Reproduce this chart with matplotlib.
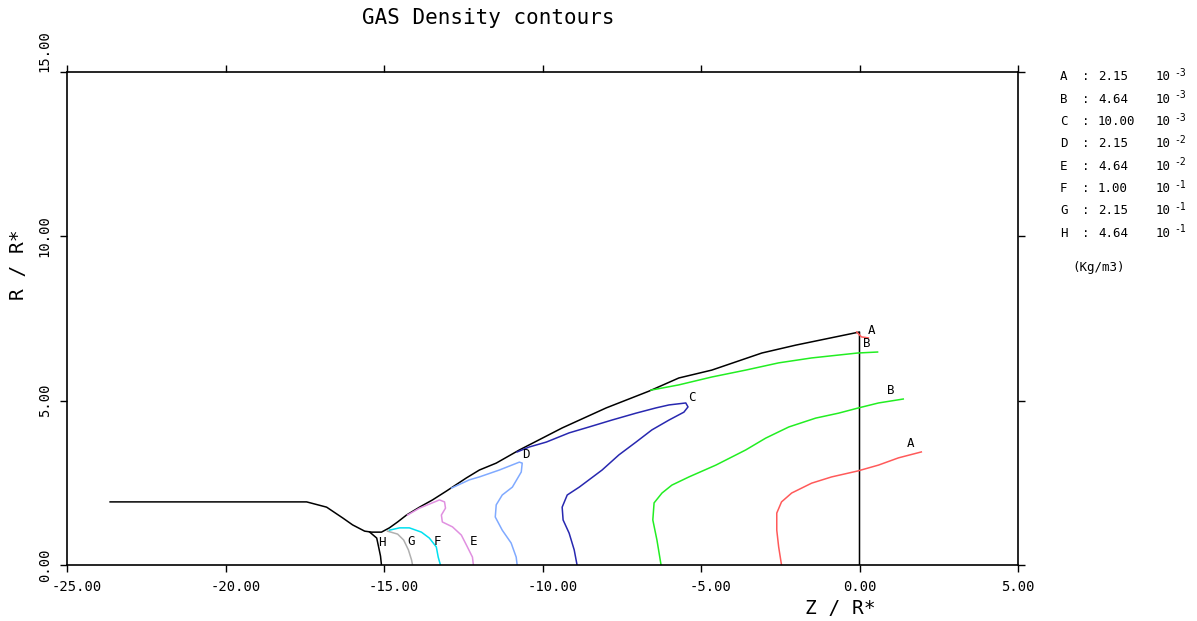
import numpy as np
import matplotlib
matplotlib.use('Agg')
import matplotlib.pyplot as plt
import matplotlib.transforms as mtransforms
from matplotlib.ticker import FormatStrFormatter

# outer boundary (shock + body) and axis line at Z = 0
bound_z = [-23.64, -17.44, -16.81, -16.30, -15.99, -15.61, -15.39, -15.08, -14.83, -14.57,
           -14.29, -13.88, -13.47, -13.03, -12.40, -11.99, -11.46, -10.73, -9.38, -7.99,
           -6.64, -5.70, -4.66, -3.08, -2.01, 0.0, 0.0]
bound_r = [1.92, 1.92, 1.76, 1.43, 1.22, 1.03, 1.00, 1.00, 1.13, 1.31,
           1.52, 1.76, 1.98, 2.25, 2.65, 2.89, 3.10, 3.50, 4.17, 4.78,
           5.29, 5.69, 5.93, 6.45, 6.69, 7.09, 0.0]

# density contours, each a list of (z, r) pieces
cont_A = [
    ([-2.46, -2.55, -2.61, -2.61, -2.46, -2.14, -1.51, -0.88, -0.06, 0.60, 1.23, 1.95],
     [0.0, 0.55, 1.06, 1.58, 1.92, 2.19, 2.49, 2.68, 2.86, 3.04, 3.26, 3.44]),
    ([-0.09, 0.06, 0.28], [7.09, 6.94, 6.91]),
]
cont_B = [
    ([-6.26, -6.39, -6.52, -6.48, -6.23, -5.92, -5.38, -4.53, -3.59, -2.96, -2.23, -1.38,
      -0.66, -0.03, 0.60, 1.38],
     [0.0, 0.76, 1.37, 1.89, 2.19, 2.43, 2.68, 3.04, 3.50, 3.86, 4.20, 4.47,
      4.62, 4.78, 4.93, 5.05]),
    ([-6.58, -5.70, -4.66, -3.59, -2.55, -1.51, -0.06, 0.57],
     [5.32, 5.48, 5.72, 5.93, 6.15, 6.30, 6.45, 6.48]),
]
cont_C = [
    ([-10.80, -10.42, -9.88, -9.16, -8.53, -7.81, -7.05, -6.42, -6.01, -5.48, -5.41, -5.54,
      -6.01, -6.55, -7.05, -7.59, -8.12, -8.84, -9.22, -9.38, -9.35, -9.16, -9.00, -8.91],
     [3.44, 3.59, 3.74, 4.02, 4.20, 4.41, 4.62, 4.78, 4.87, 4.93, 4.81, 4.65,
      4.41, 4.11, 3.74, 3.35, 2.89, 2.37, 2.13, 1.76, 1.37, 0.97, 0.46, 0.0]),
]
cont_D = [
    ([-12.87, -12.31, -11.99, -11.36, -10.73, -10.64, -10.67, -10.95, -11.27, -11.46, -11.49,
      -11.27, -10.99, -10.83, -10.80],
     [2.34, 2.59, 2.68, 2.89, 3.13, 3.10, 2.83, 2.37, 2.13, 1.83, 1.46,
      1.06, 0.67, 0.24, 0.0]),
]
cont_E = [
    ([-14.26, -13.88, -13.25, -13.09, -13.06, -13.19, -13.16, -12.84, -12.56, -12.37, -12.21, -12.18],
     [1.52, 1.73, 1.98, 1.92, 1.73, 1.52, 1.31, 1.16, 0.91, 0.55, 0.24, 0.0]),
]
cont_F = [
    ([-14.83, -14.51, -14.20, -13.82, -13.57, -13.35, -13.29, -13.22],
     [1.06, 1.13, 1.13, 1.00, 0.82, 0.55, 0.24, 0.0]),
]
cont_G = [
    ([-14.89, -14.57, -14.38, -14.23, -14.13, -14.10],
     [1.03, 0.94, 0.76, 0.46, 0.15, 0.0]),
]
cont_H = [
    ([-15.45, -15.23, -15.17, -15.11, -15.08], [1.00, 0.82, 0.55, 0.27, 0.0]),
]

contours = [cont_A, cont_B, cont_C, cont_D, cont_E, cont_F, cont_G, cont_H]
colors = ['#ff5a5a', '#22ee22', '#2828b0', '#80aaff', '#e090e0', '#00e0f0', '#b0b0b0', 'black']

# contour letter positions
lab_text = ['A', 'A', 'B', 'B', 'C', 'D', 'E', 'F', 'G', 'H']
lab_z = [1.60, 0.38, 0.22, 1.00, -5.29, -10.51, -12.18, -13.31, -14.13, -15.08]
lab_r = [3.71, 7.15, 6.75, 5.32, 5.11, 3.35, 0.73, 0.73, 0.70, 0.67]

# legend table
leg_letters = ['A', 'B', 'C', 'D', 'E', 'F', 'G', 'H']
leg_values = ['2.15', '4.64', '10.00', '2.15', '4.64', '1.00', '2.15', '4.64']
leg_exp = ['-3', '-3', '-3', '-2', '-2', '-1', '-1', '-1']

mono = 'DejaVu Sans Mono'
plt.rcParams['font.family'] = mono

fig = plt.figure(figsize=(11.97, 6.21), dpi=100)
ax = fig.add_axes([67/1197, 1-565/621, (1018-67)/1197, (565-72)/621])

ax.plot(bound_z, bound_r, color='black', lw=1.1)
for pieces, c in zip(contours, colors):
    for zz, rr in pieces:
        ax.plot(zz, rr, color=c, lw=1.1)

for t, z, r in zip(lab_text, lab_z, lab_r):
    ax.text(z, r, t, fontsize=9, ha='center', va='center', color='black')

ax.set_xlim(-25, 5)
ax.set_ylim(0, 15)
ax.set_xticks(np.arange(-25, 6, 5))
ax.set_yticks(np.arange(0, 16, 5))
ax.xaxis.set_major_formatter(FormatStrFormatter('%.2f'))
ax.yaxis.set_major_formatter(FormatStrFormatter('%.2f'))
ax.tick_params(direction='out', length=5, width=1.0, top=True, right=True,
               labelsize=10, pad=6)
for s in ax.spines.values():
    s.set_linewidth(1.2)

fig.canvas.draw()
# negative x labels sit a little right of their ticks in the original
shift = mtransforms.ScaledTranslation(10/100, 0, fig.dpi_scale_trans)
for lab, v in zip(ax.get_xticklabels(), ax.get_xticks()):
    if v < 0:
        lab.set_transform(lab.get_transform() + shift)
ylabs = ax.get_yticklabels()
for lab in ylabs:
    lab.set_rotation(90)
    lab.set_va('center')
ylabs[-1].set_va('bottom')

fig.text(488/1197, 1-18/621, 'GAS Density contours', fontsize=15, ha='center', va='center')
fig.text(840/1197, 1-609/621, 'Z / R*', fontsize=14, ha='center', va='center')
fig.text(18/1197, 1-265/621, 'R / R*', fontsize=14, ha='center', va='center', rotation=90)

for i in range(len(leg_letters)):
    y = 1 - (77 + i*22.3)/621
    fig.text(1060/1197, y, leg_letters[i], fontsize=9, va='center')
    fig.text(1082/1197, y, ':', fontsize=9, va='center')
    fig.text(1098/1197, y, leg_values[i], fontsize=9, va='center')
    fig.text(1156/1197, y, '10', fontsize=9, va='center')
    fig.text(1174/1197, y + 4/621, leg_exp[i], fontsize=7, va='center')
fig.text(1072/1197, 1-268/621, '(Kg/m3)', fontsize=9, va='center')

fig.savefig('out.png', dpi=100)
